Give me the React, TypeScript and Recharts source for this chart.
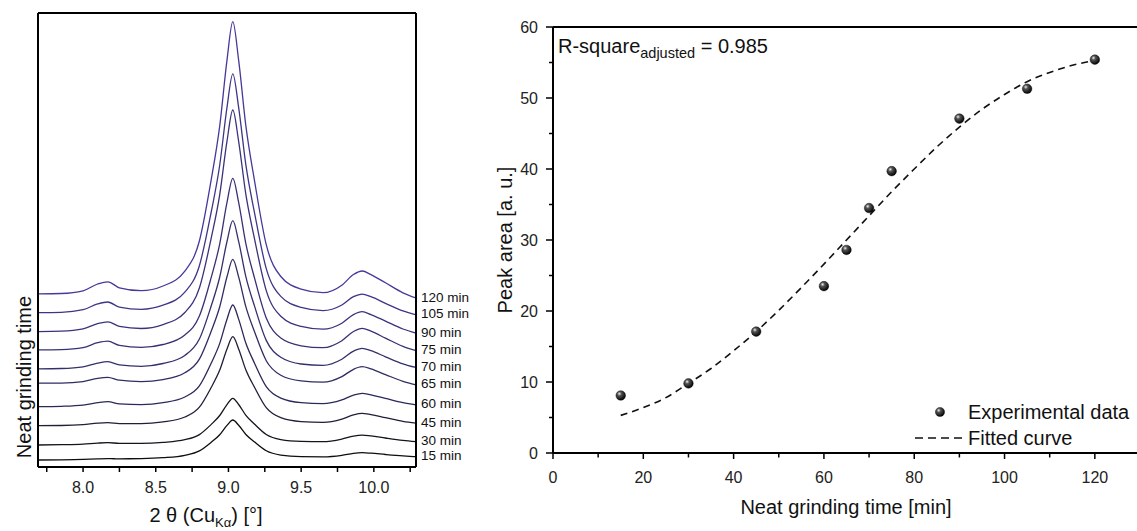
import React from "react"
import {
  LineChart,
  Line,
  ComposedChart,
  Scatter,
  XAxis,
  YAxis,
  LabelList,
  Customized,
} from "recharts"

// ---- left panel: XRD patterns (intensity in a.u., stacked) ----
const THETA = [
  7.69, 7.85, 8.0, 8.1, 8.17, 8.25, 8.4, 8.55, 8.7, 8.8, 8.88, 8.94, 8.99, 9.03,
  9.07, 9.12, 9.18, 9.26, 9.36, 9.5, 9.65, 9.78, 9.86, 9.92, 9.98, 10.08, 10.2, 10.29,
]
const I_120 = [173.1, 173.5, 176.2, 183.0, 185.2, 179.2, 176.3, 181.0, 195.9, 226.0, 286.2, 341.1, 406.9, 445.3, 406.8, 340.8, 285.7, 222.3, 190.5, 177.9, 174.3, 181.8, 192.5, 196.0, 192.4, 184.2, 174.2, 169.0]
const I_105 = [154.4, 154.7, 157.3, 163.1, 165.0, 159.9, 157.7, 161.8, 174.9, 201.3, 254.0, 302.0, 359.7, 393.2, 359.6, 301.8, 253.7, 198.4, 170.6, 159.6, 156.4, 162.0, 170.3, 172.9, 170.3, 163.7, 156.1, 152.2]
const I_90 = [135.4, 135.8, 138.1, 143.4, 145.2, 140.6, 138.5, 142.4, 154.5, 179.0, 227.9, 272.4, 325.8, 357.0, 325.7, 272.3, 227.7, 176.4, 150.7, 140.6, 137.8, 143.8, 152.4, 155.3, 152.4, 145.9, 138.0, 133.9]
const I_75 = [117.1, 117.4, 119.4, 124.3, 125.9, 121.6, 119.6, 122.5, 132.0, 150.9, 188.8, 223.2, 264.6, 288.7, 264.6, 223.1, 188.6, 149.0, 129.0, 121.2, 119.3, 126.3, 135.5, 138.7, 135.8, 128.9, 120.6, 116.3]
const I_70 = [98.1, 98.5, 100.2, 103.9, 105.3, 102.1, 100.7, 103.5, 111.6, 128.0, 160.5, 190.0, 225.5, 246.3, 225.6, 190.1, 160.6, 126.6, 109.7, 103.0, 101.7, 107.8, 115.9, 118.7, 116.3, 110.2, 103.2, 99.5]
const I_65 = [83.8, 83.9, 85.4, 88.7, 89.7, 86.8, 85.4, 87.4, 94.2, 107.9, 135.3, 160.2, 190.2, 207.7, 190.1, 160.1, 135.1, 106.3, 91.8, 86.1, 84.8, 90.4, 97.7, 100.3, 98.1, 92.4, 85.7, 82.2]
const I_60 = [60.3, 60.7, 61.9, 64.3, 65.3, 63.2, 62.4, 64.3, 70.0, 81.1, 103.4, 123.6, 147.8, 162.0, 147.9, 123.7, 103.6, 80.4, 68.9, 64.3, 63.3, 67.1, 71.9, 73.7, 72.2, 68.6, 64.3, 62.2]
const I_45 = [41.3, 41.5, 42.4, 43.8, 44.3, 43.4, 43.3, 45.1, 50.0, 59.8, 79.2, 96.9, 118.0, 130.3, 118.1, 97.0, 79.5, 59.3, 49.3, 45.4, 44.7, 47.9, 52.2, 53.7, 52.4, 49.3, 45.6, 43.8]
const I_30 = [22.0, 22.3, 22.9, 23.9, 24.3, 23.7, 23.6, 24.6, 27.3, 32.4, 42.4, 51.5, 62.4, 68.7, 62.5, 51.7, 42.7, 32.5, 27.4, 25.6, 25.3, 27.9, 30.9, 31.9, 31.1, 29.0, 26.7, 25.4]
const I_15 = [7.0, 7.2, 7.6, 8.1, 8.3, 8.2, 8.4, 9.3, 11.7, 16.1, 24.6, 32.3, 41.6, 47.0, 41.7, 32.5, 24.9, 16.2, 11.9, 10.4, 10.2, 11.7, 13.7, 14.3, 13.8, 12.5, 11.1, 10.3]

const CURVE_LABELS = ["120 min", "105 min", "90 min", "75 min", "70 min", "65 min", "60 min", "45 min", "30 min", "15 min"]
const CURVE_VALUES = [I_120, I_105, I_90, I_75, I_70, I_65, I_60, I_45, I_30, I_15]
const CURVE_COLORS = ["#45399a", "#3d3686", "#39337c", "#363274", "#33306c", "#2f2d62", "#2a2958", "#1f1f38", "#141420", "#0e0e0e"]
const THETA_TICKS = [7.75, 8, 8.25, 8.5, 8.75, 9, 9.25, 9.5, 9.75, 10, 10.25]
const THETA_DOMAIN = [7.69, 10.29]
const XRD_DOMAIN = [0, 454]

// ---- right panel: peak area vs grinding time ----
const EXP_TIME = [15, 30, 45, 60, 65, 70, 75, 90, 105, 120]
const EXP_AREA = [8.1, 9.8, 17.1, 23.5, 28.6, 34.5, 39.7, 47.1, 51.3, 55.4]
const FIT_TIME = [15, 20, 25, 30, 35, 40, 45, 50, 55, 60, 65, 70, 75, 80, 85, 90, 95, 100, 105, 110, 115, 120]
const FIT_AREA = [5.3, 6.4, 7.8, 9.8, 11.9, 14.4, 17.1, 20.1, 23.3, 26.6, 30.0, 33.4, 36.8, 40.0, 43.1, 45.9, 48.4, 50.5, 52.3, 53.6, 54.6, 55.3]
const TIME_TICKS = [0, 10, 20, 30, 40, 50, 60, 70, 80, 90, 100, 110, 120, 130]
const AREA_TICKS = [0, 5, 10, 15, 20, 25, 30, 35, 40, 45, 50, 55, 60]
const TIME_DOMAIN = [0, 130]
const AREA_DOMAIN = [0, 60]

const FONT = '"Liberation Sans", Arial, Helvetica, sans-serif'
const INK = "#000"

// chart boxes (page coordinates)
const L_LEFT = 0
const L_W = 475
const L_H = 531
const L_MARGIN = { top: 13, right: 59, bottom: 0, left: 38 }
const L_XAXIS_H = 64
const R_LEFT = 470
const R_W = 670
const R_H = 531
const R_MARGIN = { top: 27, right: 0, bottom: 0, left: 0 }
const R_XAXIS_H = 78
const R_YAXIS_W = 83

const xrdRows = THETA.map((theta, i) => {
  const row: Record<string, number> = { theta }
  CURVE_VALUES.forEach((vals, k) => {
    row["c" + k] = vals[i]
  })
  return row
})
const expRows = EXP_TIME.map((t, i) => ({ t, a: EXP_AREA[i] }))
const fitRows = FIT_TIME.map((t, i) => ({ t, a: FIT_AREA[i] }))

const lin = (d: number[], r0: number, r1: number) => (v: number) => r0 + ((v - d[0]) / (d[1] - d[0])) * (r1 - r0)

// frames and tick marks, drawn over both charts from the same layout constants
function Frames() {
  const lx0 = L_LEFT + L_MARGIN.left
  const lx1 = L_LEFT + L_W - L_MARGIN.right
  const ly0 = L_MARGIN.top
  const ly1 = L_H - L_MARGIN.bottom - L_XAXIS_H
  const lsx = lin(THETA_DOMAIN, lx0, lx1)

  const rx0 = R_LEFT + R_MARGIN.left + R_YAXIS_W
  const rx1 = R_LEFT + R_W - R_MARGIN.right
  const ry0 = R_MARGIN.top
  const ry1 = R_H - R_MARGIN.bottom - R_XAXIS_H
  const rsx = lin(TIME_DOMAIN, rx0, rx1)
  const rsy = lin(AREA_DOMAIN, ry1, ry0)

  const seg = (k: string, x1: number, y1: number, x2: number, y2: number, w: number) => (
    <path key={k} d={`M${x1},${y1}L${x2},${y2}`} stroke={INK} strokeWidth={w} fill="none" />
  )

  return (
    <svg width={1137} height={531} style={{ position: "absolute", left: 0, top: 0, pointerEvents: "none" }}>
      {seg("lt", lx0, ly0, lx1, ly0, 2)}
      {seg("lb", lx0, ly1, lx1, ly1, 2)}
      {seg("ll", lx0, ly0, lx0, ly1, 2)}
      {seg("lr", lx1, ly0, lx1, ly1, 2)}
      {THETA_TICKS.map((t) => seg("l" + t, lsx(t), ly1, lsx(t), ly1 + 5, 1.5))}
      {seg("rt", rx0, ry0, rx1, ry0, 2)}
      {seg("rb", rx0, ry1, rx1, ry1, 2)}
      {seg("rl", rx0, ry0, rx0, ry1, 2)}
      {TIME_TICKS.map((t) => seg("x" + t, rsx(t), ry1, rsx(t), ry1 + (t % 20 === 0 ? 6 : 4.5), 1.5))}
      {AREA_TICKS.map((a) => seg("y" + a, rx0, rsy(a), rx0 - (a % 10 === 0 ? 7 : 4), rsy(a), 1.5))}
    </svg>
  )
}

function LeftTitles() {
  return (
    <g fontFamily={FONT} fill="#111">
      <text x={206} y={522} textAnchor="middle" fontSize={20}>
        2 θ (Cu<tspan dy={5} fontSize={13}>Kα</tspan>
        <tspan dy={-5}>) [°]</tspan>
      </text>
      <text x={24} y={377} textAnchor="middle" dominantBaseline="central" fontSize={20} transform="rotate(-90, 24, 377)">
        Neat grinding time
      </text>
    </g>
  )
}

function Ball(props: any) {
  const { cx, cy } = props
  return <circle cx={cx} cy={cy} r={4.8} fill="url(#ballGrad)" stroke="#000" strokeWidth={0.4} />
}

function RightTitles() {
  return (
    <g fontFamily={FONT} fill="#111">
      <defs>
        <radialGradient id="ballGrad" cx="0.36" cy="0.32" r="0.7">
          <stop offset="0" stopColor="#f2f2f2" />
          <stop offset="0.3" stopColor="#555" />
          <stop offset="1" stopColor="#000" />
        </radialGradient>
      </defs>
      <text x={88} y={53} fontSize={20}>
        R-square<tspan dy={5} fontSize={14.5}>adjusted</tspan>
        <tspan dy={-5}> = 0.985</tspan>
      </text>
      <circle cx={470} cy={412} r={4.6} fill="url(#ballGrad)" stroke="#000" strokeWidth={0.4} />
      <text x={498} y={419} fontSize={20}>Experimental data</text>
      <line x1={445} x2={493} y1={438} y2={438} stroke="#111" strokeWidth={1.5} strokeDasharray="8 5" />
      <text x={498} y={445} fontSize={20}>Fitted curve</text>
      <text x={376} y={514} fontSize={20} textAnchor="middle">Neat grinding time [min]</text>
      <text x={35} y={240} fontSize={20} textAnchor="middle" dominantBaseline="central" transform="rotate(-90, 35, 240)">
        Peak area [a. u.]
      </text>
    </g>
  )
}

export default function App() {
  const last = THETA.length - 1
  return (
    <div
      style={{
        position: "absolute",
        left: 0,
        top: 0,
        width: 1137,
        height: 531,
        overflow: "hidden",
        background: "#fff",
        fontFamily: FONT,
      }}
    >
      <div style={{ position: "absolute", left: L_LEFT, top: 0 }}>
        <LineChart width={L_W} height={L_H} data={xrdRows} margin={L_MARGIN}>
          <XAxis
            dataKey="theta"
            type="number"
            domain={THETA_DOMAIN}
            ticks={THETA_TICKS}
            tickFormatter={(v: number) => (Number.isInteger(v * 2) ? v.toFixed(1) : "")}
            height={L_XAXIS_H}
            tickSize={4}
            tickMargin={11}
            axisLine={false}
            tickLine={false}
            tick={{ fill: "#222", fontSize: 16 }}
            allowDataOverflow
          />
          <YAxis type="number" domain={XRD_DOMAIN} hide />
          {CURVE_LABELS.map((name, k) => (
            <Line
              key={name}
              dataKey={"c" + k}
              type="monotone"
              stroke={CURVE_COLORS[k]}
              strokeWidth={1.3}
              dot={false}
              isAnimationActive={false}
            >
              <LabelList
                dataKey={"c" + k}
                content={(p: any) =>
                  p.index === last ? (
                    <text x={p.x + 5} y={p.y - 1} fontSize={13.5} fill="#111" dominantBaseline="central">
                      {name}
                    </text>
                  ) : null
                }
              />
            </Line>
          ))}
          <Customized component={LeftTitles} />
        </LineChart>
      </div>

      <div style={{ position: "absolute", left: R_LEFT, top: 0 }}>
        <ComposedChart width={R_W} height={R_H} margin={R_MARGIN}>
          <XAxis
            dataKey="t"
            type="number"
            domain={TIME_DOMAIN}
            ticks={TIME_TICKS}
            tickFormatter={(v: number) => (v % 20 === 0 ? String(v) : "")}
            height={R_XAXIS_H}
            tickSize={5}
            tickMargin={14}
            axisLine={false}
            tickLine={false}
            tick={{ fill: "#222", fontSize: 16 }}
            allowDataOverflow
          />
          <YAxis
            dataKey="a"
            type="number"
            domain={AREA_DOMAIN}
            ticks={AREA_TICKS}
            tickFormatter={(v: number) => (v % 10 === 0 ? String(v) : "")}
            width={R_YAXIS_W}
            tickSize={5}
            tickMargin={10}
            axisLine={false}
            tickLine={false}
            tick={{ fill: "#222", fontSize: 16 }}
          />
          <Line
            data={fitRows}
            dataKey="a"
            type="monotone"
            stroke="#111"
            strokeWidth={1.6}
            strokeDasharray="7 5"
            dot={false}
            isAnimationActive={false}
          />
          <Scatter data={expRows} dataKey="a" shape={Ball} isAnimationActive={false} />
          <Customized component={RightTitles} />
        </ComposedChart>
      </div>

      <Frames />
    </div>
  )
}
